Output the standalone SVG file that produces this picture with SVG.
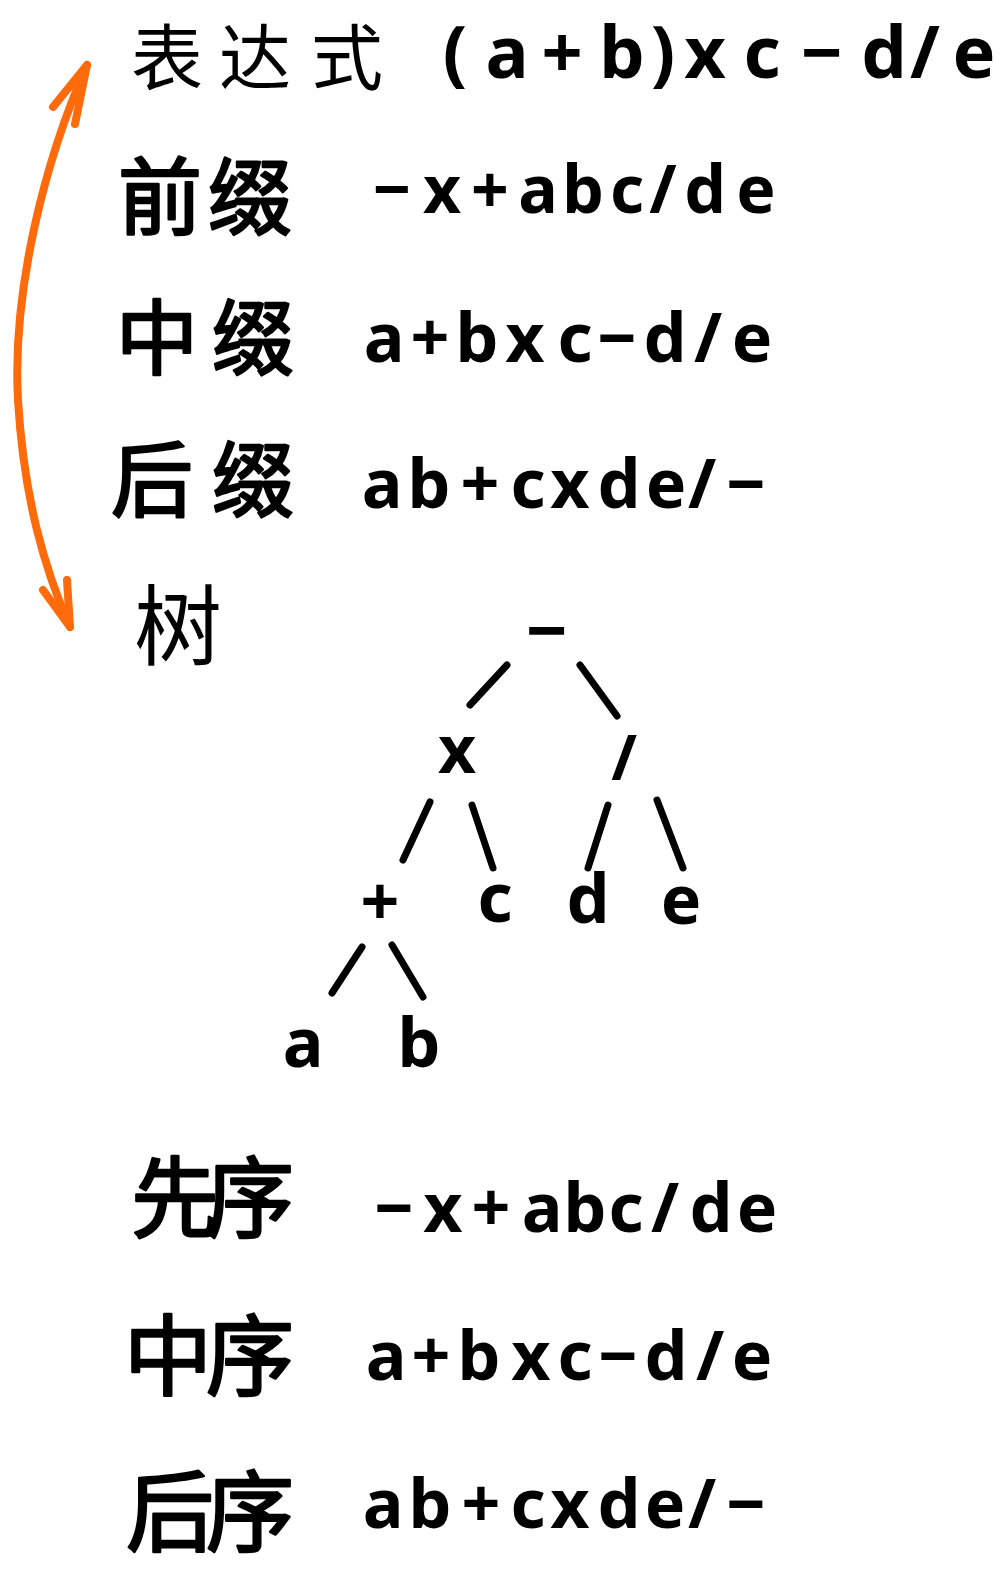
<svg xmlns="http://www.w3.org/2000/svg" width="1005" height="1570" viewBox="0 0 1005 1570">
<style>
.bg{fill:#ffffff}
.cjk{font-family:"Noto Sans CJK SC","Noto Sans",sans-serif;fill:#000;text-anchor:middle}
.typed{font-weight:normal}
.hand{font-weight:normal;stroke:#000;stroke-width:2.5;stroke-linejoin:round}
.lat{font-family:"Noto Sans","DejaVu Sans",sans-serif;font-weight:bold;fill:#000;text-anchor:middle}
.edge{stroke:#000;stroke-width:7;stroke-linecap:round;fill:none}
.orange{stroke:#FF6A0A;stroke-width:8;stroke-linecap:round;stroke-linejoin:round;fill:none}
</style>
<rect class="bg" x="0" y="0" width="1005" height="1570"/>

<g id="title">
  <text class="cjk typed" font-size="72" y="84" x="167 255 347">表达式</text>
  <text class="lat" font-size="72" y="78" x="455 507 562 622 663 705 762 822 884 925 974">(a+b)xc−d/e</text>
</g>

<g id="prefix">
  <text class="cjk hand" font-size="84" y="228" x="160 250">前缀</text>
  <text class="lat" font-size="66" y="213" x="392 442 490 538 583 627 663 705 756">−x+abc/de</text>
</g>

<g id="infix">
  <text class="cjk hand" font-size="82" y="368" x="157 253">中缀</text>
  <text class="lat" font-size="68" y="362" x="384 430 477 525 575 617 665 708 752">a+bxc−d/e</text>
</g>

<g id="postfix">
  <text class="cjk hand" font-size="82" y="510" x="152 253">后缀</text>
  <text class="lat" font-size="68" y="508" x="382 429 480 528 570 619 666 702 746">ab+cxde/−</text>
</g>

<g id="tree-label">
  <text class="cjk typed" font-size="88" y="658" x="178">树</text>
</g>

<g id="connectors">
  <path class="orange" d="M87,65 C45,160 12,290 18,400 C24,500 45,570 70,627"/>
  <path class="orange" d="M53,107 L87,65 L75,124"/>
  <path class="orange" d="M43,590 L70,627 L67,580"/>
  <line class="edge" x1="507" y1="665" x2="470" y2="705"/>
  <line class="edge" x1="580" y1="665" x2="617" y2="716"/>
  <line class="edge" x1="430" y1="802" x2="403" y2="860"/>
  <line class="edge" x1="472" y1="805" x2="493" y2="868"/>
  <line class="edge" x1="608" y1="805" x2="588" y2="868"/>
  <line class="edge" x1="657" y1="800" x2="683" y2="868"/>
  <line class="edge" x1="362" y1="947" x2="332" y2="993"/>
  <line class="edge" x1="392" y1="945" x2="423" y2="997"/>
</g>

<g id="node-minus"><text class="lat" font-size="72" x="547" y="656">−</text></g>
<g id="node-times"><text class="lat" font-size="66" x="457" y="773">x</text></g>
<g id="node-div"><text class="lat" font-size="62" x="624" y="780">/</text></g>
<g id="node-plus"><text class="lat" font-size="68" x="380" y="926">+</text></g>
<g id="node-c"><text class="lat" font-size="68" x="495" y="922">c</text></g>
<g id="node-d"><text class="lat" font-size="68" x="588" y="923">d</text></g>
<g id="node-e"><text class="lat" font-size="68" x="681" y="924">e</text></g>
<g id="node-a"><text class="lat" font-size="68" x="303" y="1067">a</text></g>
<g id="node-b"><text class="lat" font-size="68" x="419" y="1067">b</text></g>

<g id="preorder">
  <text class="cjk hand" font-size="88" y="1230" x="175 250">先序</text>
  <text class="lat" font-size="68" y="1232" x="394 443 491 542 585 626 665 711 757">−x+abc/de</text>
</g>

<g id="inorder">
  <text class="cjk hand" font-size="88" y="1388" x="168 250">中序</text>
  <text class="lat" font-size="68" y="1380" x="386 431 479 531 575 618 666 710 752">a+bxc−d/e</text>
</g>

<g id="postorder">
  <text class="cjk hand" font-size="88" y="1544" x="170 250">后序</text>
  <text class="lat" font-size="68" y="1528" x="383 430 481 528 570 619 665 702 746">ab+cxde/−</text>
</g>
</svg>
